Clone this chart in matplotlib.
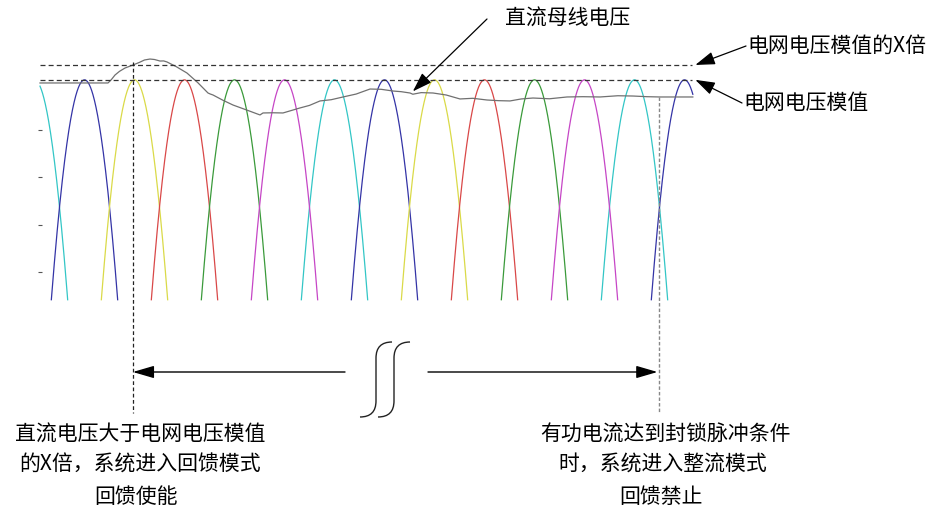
import numpy as np
import matplotlib
matplotlib.use('Agg')
import matplotlib.pyplot as plt
import matplotlib.transforms as mtransforms
from matplotlib.path import Path
from matplotlib.patches import PathPatch

plt.rcParams['font.family'] = ['Noto Sans CJK SC', 'DejaVu Sans']

# 电网线电压（6 个半波，按相位区分颜色），横轴为电角度（度），纵轴为标幺值
phase_peaks = [300, 0, 60, 120, 180, 240]
phase_colors = ['#33c6c6', '#3434a6', '#dada48', '#d94848', '#3a9a3a', '#c646c6']
grid_peak = 1.003          # 电网电压模值
x_times = 1.0157           # X 倍
grid_level_x = grid_peak * x_times
theta_start, theta_end = -53.4, 730.0
y_cut = 0.770
y_ticks = [0.80, 0.85, 0.90, 0.95]

# 直流母线电压
dc_x = [-53.4, 28.2, 32.0, 36.6, 42.0, 48.6, 58.2, 66.0, 72.0, 78.6, 84.0, 90.6, 95.0,
        99.0, 110.0, 123.0, 136.0, 148.2, 151.0, 154.2, 166.0, 178.2, 195.0, 210.6,
        214.2, 226.0, 238.2, 258.6, 270.0, 282.6, 296.0, 310.2, 326.0, 342.6, 356.0,
        370.2, 380.0, 390.6, 394.0, 404.0, 418.2, 434.0, 450.6, 466.0, 483.0, 497.0,
        510.6, 524.0, 538.2, 558.0, 579.0, 598.0, 618.6, 640.0, 658.2, 675.0, 690.6, 730.0]
dc_y = [0.9997, 0.9997, 1.0030, 1.0081, 1.0120, 1.0155, 1.0187, 1.0215, 1.0240, 1.0250,
        1.0245, 1.0229, 1.0230, 1.0219, 1.0170, 1.0102, 1.0000, 0.9891, 0.9880, 0.9870,
        0.9815, 0.9764, 0.9710, 0.9659, 0.9680, 0.9682, 0.9680, 0.9733, 0.9760, 0.9807,
        0.9820, 0.9849, 0.9880, 0.9933, 0.9930, 0.9912, 0.9905, 0.9891, 0.9878, 0.9895,
        0.9891, 0.9870, 0.9828, 0.9835, 0.9817, 0.9810, 0.9807, 0.9828, 0.9838, 0.9830,
        0.9849, 0.9852, 0.9849, 0.9862, 0.9859, 0.9852, 0.9849, 0.9849]

t_feedback_on = 58.0      # 回馈使能时刻
t_feedback_off = 689.0    # 回馈禁止时刻

W, H = 935, 509
fig = plt.figure(figsize=(W / 100, H / 100), dpi=100)
ax = fig.add_axes([0, 0, 1, 1])
ax.set_xlim(-101.4, 1020.6)
ax.set_ylim(0.5494, 1.0874)
ax.axis('off')

# 像素坐标（左上角为原点），只用于文字和箭头布局
pix = mtransforms.Affine2D().scale(1 / W, -1 / H).translate(0, 1) + fig.transFigure
blend = mtransforms.blended_transform_factory(ax.transData, pix)

theta = np.arange(theta_start, theta_end + 0.01, 0.2)
for peak, color in zip(phase_peaks, phase_colors):
    v = grid_peak * np.cos(np.radians(theta - peak))
    v[v < y_cut] = np.nan
    ax.plot(theta, v, color=color, lw=0.9)

ax.plot(dc_x, dc_y, color='#707070', lw=0.9)

# 左侧残留刻度
ax.plot([theta_start] * len(y_ticks), y_ticks, ls='none', marker='_', ms=2.5,
        color='#555555', mew=0.8)

# 水平虚线：电网电压模值及其 X 倍
for level in [grid_peak, grid_level_x]:
    ax.plot([theta_start, theta_end - 1], [level, level], color='#333333', lw=0.9,
            ls=(0, (4, 2.5)))

# 竖直虚线
ax.plot([t_feedback_on, t_feedback_on], [1.022, 0.651], color='#222222', lw=0.9,
        ls=(0, (3, 2)))
y_off = np.interp(t_feedback_off, dc_x, dc_y)
ax.plot([t_feedback_off, t_feedback_off], [y_off, 0.651], color='#888888', lw=1.0,
        ls=(0, (2.5, 1.5)))

# 水平双向箭头（中间带断开符号）
head = dict(arrowstyle='-|>,head_length=1.3,head_width=0.38', color='k', lw=1.0,
            shrinkA=0, shrinkB=0, mutation_scale=10)
ax.annotate('', xy=(t_feedback_on, 372), xycoords=blend,
            xytext=(345, 372), textcoords=pix, arrowprops=head)
ax.annotate('', xy=(t_feedback_off - 1.5, 372), xycoords=blend,
            xytext=(428, 372), textcoords=pix, arrowprops=head)

for x0 in [376, 394]:
    verts = [(x0 - 16, 417), (x0, 417), (x0, 401), (x0, 358), (x0, 342), (x0 + 16, 342)]
    codes = [Path.MOVETO, Path.CURVE3, Path.CURVE3, Path.LINETO, Path.CURVE3, Path.CURVE3]
    ax.add_patch(PathPatch(Path(verts, codes), fill=False, lw=1.0, color='#222222',
                           transform=pix))

# 指示箭头和文字
ptr = dict(arrowstyle='-|>,head_length=1.2,head_width=0.4', color='k', lw=0.9,
           shrinkA=0, shrinkB=0, mutation_scale=10)
x_dc = 394.0
ax.annotate('', xy=(x_dc, np.interp(x_dc, dc_x, dc_y) + 0.003), xycoords='data',
            xytext=(487, 19), textcoords=pix, arrowprops=ptr)
ax.text(505, 19, '直流母线电压', transform=pix, fontsize=15, ha='left', va='center')

ax.annotate('', xy=(theta_end + 3, grid_level_x), xycoords='data',
            xytext=(746, 46), textcoords=pix, arrowprops=ptr)
ax.text(747, 46, '电网电压模值的X倍', transform=pix, fontsize=15, ha='left', va='center')

ax.annotate('', xy=(theta_end + 3, grid_peak), xycoords='data',
            xytext=(742, 103), textcoords=pix, arrowprops=ptr)
ax.text(743, 103, '电网电压模值', transform=pix, fontsize=15, ha='left', va='center')

left_lines = ['直流电压大于电网电压模值', '的X倍，系统进入回馈模式', '回馈使能']
right_lines = ['有功电流达到封锁脉冲条件', '时，系统进入整流模式', '回馈禁止']
for (cx, cy), s in zip([(140, 435), (140, 465), (136, 497)], left_lines):
    ax.text(cx, cy, s, transform=pix, fontsize=15, ha='center', va='center')
for (cx, cy), s in zip([(665, 435), (663, 465), (661, 497)], right_lines):
    ax.text(cx, cy, s, transform=pix, fontsize=15, ha='center', va='center')

fig.savefig('out.png', dpi=100, facecolor='white')
